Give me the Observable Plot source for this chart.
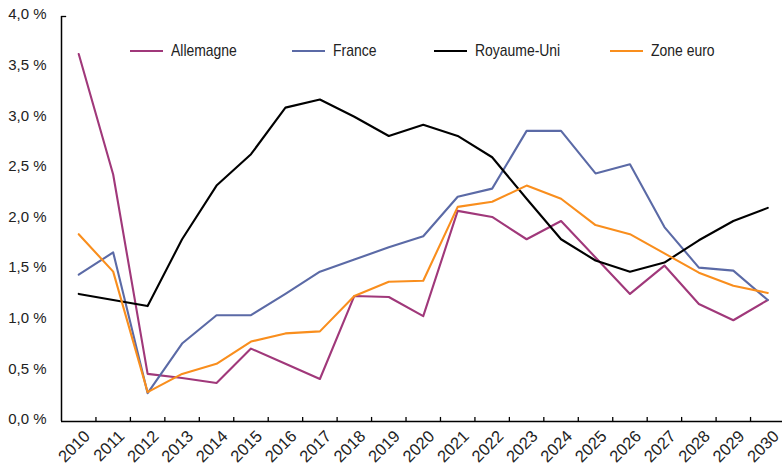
<!DOCTYPE html>
<html>
<head>
<meta charset="utf-8">
<script src="https://cdn.jsdelivr.net/npm/d3@7"></script>
<script src="https://cdn.jsdelivr.net/npm/@observablehq/plot@0.6"></script>
<style>
  html, body { margin: 0; padding: 0; background: #fff; }
  #wrap { position: relative; width: 782px; height: 468px; font-family: "Liberation Sans", Arial, sans-serif; }
  .leg { position: absolute; top: 41px; height: 20px; display: flex; align-items: center; font-size: 17px; color: #222; white-space: nowrap; }
  .leg span.sw { display: inline-block; width: 33px; height: 2px; margin-right: 8px; flex: none; }
  .leg span.tx { display: inline-block; transform: scaleX(0.82); transform-origin: left center; }
</style>
</head>
<body>
<div id="wrap"></div>
<script>
const years = d3.range(2010, 2031);
const seriesNames = ["Allemagne", "France", "Royaume-Uni", "Zone euro"];
const seriesColors = ["#a0387a", "#5b6aa6", "#000000", "#f98e1d"];
const allemagne = [3.63, 2.44, 0.47, 0.43, 0.38, 0.72, 0.57, 0.42, 1.24, 1.23, 1.04, 2.08, 2.02, 1.80, 1.98, 1.62, 1.26, 1.54, 1.16, 1.00, 1.20];
const france = [1.45, 1.67, 0.28, 0.77, 1.05, 1.05, 1.26, 1.48, 1.60, 1.72, 1.83, 2.22, 2.30, 2.87, 2.87, 2.45, 2.54, 1.92, 1.52, 1.49, 1.20];
const royaumeUni = [1.26, 1.20, 1.14, 1.80, 2.33, 2.64, 3.10, 3.18, 3.01, 2.82, 2.93, 2.82, 2.61, 2.20, 1.80, 1.59, 1.48, 1.57, 1.79, 1.98, 2.11];
const zoneEuro = [1.85, 1.48, 0.29, 0.47, 0.57, 0.79, 0.87, 0.89, 1.24, 1.38, 1.39, 2.12, 2.17, 2.33, 2.20, 1.94, 1.85, 1.66, 1.47, 1.34, 1.27];
const yTicks = [0, 0.5, 1, 1.5, 2, 2.5, 3, 3.5, 4];

const allSeries = [allemagne, france, royaumeUni, zoneEuro];
const rows = [];
allSeries.forEach((vals, s) => vals.forEach((v, i) => rows.push({year: years[i], value: v, series: seriesNames[s]})));
const bounds = d3.range(2010.5, 2030.5, 1);

const fmt = d => d.toFixed(1).replace(".", ",") + " %";

const chart = Plot.plot({
  width: 782,
  height: 468,
  marginLeft: 61,
  marginRight: 0,
  marginTop: 16,
  marginBottom: 47,
  style: { fontFamily: "'Liberation Sans', Arial, sans-serif", color: "#222", background: "#fff" },
  x: { domain: [2009.5, 2030.5], range: [61, 784.5], axis: null },
  y: { domain: [0, 4], axis: null },
  color: { domain: seriesNames, range: seriesColors },
  marks: [
    Plot.axisY(yTicks, { tickSize: 0, tickPadding: 15, tickFormat: fmt, fontSize: 15, dy: -2, label: null }),
    Plot.text(years, { x: d => d, frameAnchor: "bottom", text: d => String(d), rotate: -45, textAnchor: "end", lineAnchor: "middle", fontSize: 16.5, dx: 8.5, dy: 12, fill: "#222" }),
    Plot.ruleX(bounds, { x: d => d, y1: 0, y2: 0.04, stroke: "#000", strokeWidth: 1.3 }),
    Plot.ruleY([4], { x1: 2009.5, x2: 2009.65, stroke: "#000", strokeWidth: 1.3 }),
    Plot.lineY(rows, { x: "year", y: "value", z: "series", stroke: "series", strokeWidth: 2.1 }),
    Plot.ruleX([2009.5], { stroke: "#000", strokeWidth: 1.5 }),
    Plot.ruleY([0], { stroke: "#000", strokeWidth: 1.5 })
  ]
});

const wrap = document.getElementById("wrap");
wrap.appendChild(chart);
const legLefts = [130, 292, 434, 610];
seriesNames.forEach((name, i) => {
  const d = document.createElement("div");
  d.className = "leg";
  d.style.left = legLefts[i] + "px";
  d.innerHTML = `<span class="sw" style="background:${seriesColors[i]}"></span><span class="tx">${name}</span>`;
  wrap.appendChild(d);
});
</script>
</body>
</html>
